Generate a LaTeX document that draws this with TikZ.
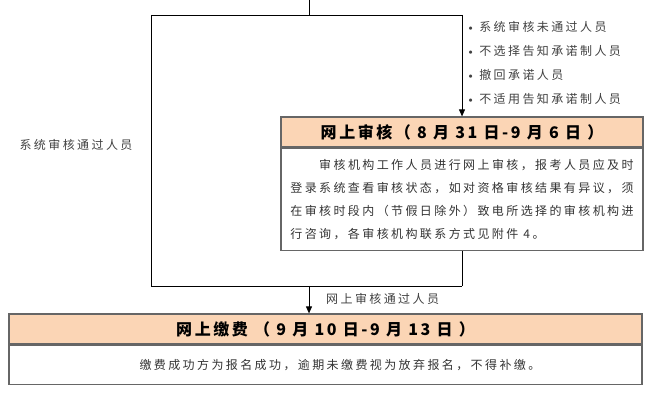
\documentclass[tikz,border=0pt]{standalone}
\usepackage{fontspec}
\usetikzlibrary{arrows.meta}
\newfontfamily\cjk{Noto Sans CJK SC}[LetterSpace=20]
\newfontfamily\cjktitle{Noto Sans CJK SC}[LetterSpace=16]
\definecolor{peach}{HTML}{FBD5B5}
\tikzset{
    conn/.style={draw=black, line width=0.9pt},
    arr/.style={conn, -{Triangle[length=7pt,width=6pt]}},
    titlebox/.style={draw=black!60, line width=1.2pt, fill=peach, minimum height=30pt,
        inner sep=0pt, font=\cjktitle\bfseries\fontsize{16}{18}\selectfont},
    bodybox/.style={draw=black!60, line width=1.2pt, inner sep=0pt, align=left,
        text=black!80, font=\cjk\fontsize{12}{23}\selectfont},
    note/.style={inner sep=0pt, text=black!75, font=\cjk\fontsize{12}{14}\selectfont}
}
\begin{document}
\begin{tikzpicture}[x=1pt,y=1pt]

    \useasboundingbox (0,0) rectangle (666,401);

    % Box for the online review
    \node[titlebox, minimum width=362pt] (audit) at (462,269) {网上审核（ 8 月 31 日-9 月 6 日 ）};
    \node[bodybox, minimum width=362pt, minimum height=102pt, anchor=north] (auditbody) at (audit.south)
        {\hspace*{28.8pt}审核机构工作人员进行网上审核，报考人员应及时\\
         登录系统查看审核状态，如对资格审核结果有异议，须\\
         在审核时段内（节假日除外）致电所选择的审核机构进\\
         行咨询，各审核机构联系方式见附件 4。};

    % Box for the online payment
    \node[titlebox, minimum width=633pt] (pay) at (325.5,72) {网上缴费 （ 9 月 10 日-9 月 13 日 ）};
    \node[bodybox, minimum width=633pt, minimum height=39pt, anchor=north] (paybody) at (pay.south)
        {\hspace*{28.8pt}缴费成功方为报名成功，逾期未缴费视为放弃报名，不得补缴。};

    % Corner points of the two branches
    \coordinate (top) at (309,401);
    \coordinate (split) at (309,386);
    \coordinate (tl) at (151,386);
    \coordinate (tr) at (462,386);
    \coordinate (bl) at (151,115);
    \coordinate (br) at (462,115);
    \coordinate (merge) at (309,115);

    % Connectors
    \draw[conn] (top) -- (split);
    \draw[conn] (tl) -- (tr);
    \draw[conn] (tl) -- (bl) -- (br);
    \draw[arr] (tr) -- (audit.north);
    \draw[conn] (auditbody.south) -- (br);
    \draw[arr] (merge) -- (merge |- pay.north);

    % Branch labels
    \node[note] (pass) at (76,256) {系统审核通过人员};
    \node[note, anchor=west] (fail1) at (466,374) {{\rmfamily\textbullet}\hspace{4pt}系统审核未通过人员};
    \node[note, anchor=west] (fail2) at (466,350) {{\rmfamily\textbullet}\hspace{4pt}不选择告知承诺制人员};
    \node[note, anchor=west] (fail3) at (466,326) {{\rmfamily\textbullet}\hspace{4pt}撤回承诺人员};
    \node[note, anchor=west] (fail4) at (466,302) {{\rmfamily\textbullet}\hspace{4pt}不适用告知承诺制人员};
    \node[note, anchor=west] (okay) at (326,102) {网上审核通过人员};

\end{tikzpicture}
\end{document}
